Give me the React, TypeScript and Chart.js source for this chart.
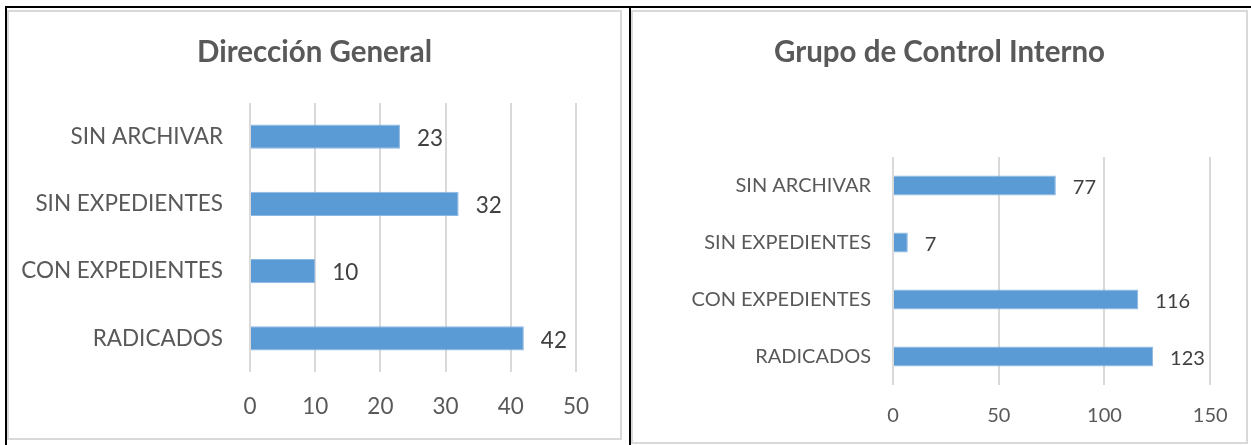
import React, { useEffect, useRef } from "react";
import { Chart, registerables } from "chart.js";

Chart.register(...registerables);

const categories = ["SIN ARCHIVAR", "SIN EXPEDIENTES", "CON EXPEDIENTES", "RADICADOS"];
const direccionValues = [23, 32, 10, 42];
const controlValues = [77, 7, 116, 123];
const direccionTitle = "Dirección General";
const controlTitle = "Grupo de Control Interno";

const FONT = "Lato, 'Open Sans', sans-serif";
const BAR = "#5B9BD5";
const GRID = "#d9d9d9";
const TEXT = "#595959";

const valueLabels = {
  id: "valueLabels",
  afterDatasetsDraw(chart: any, _args: any, opts: any) {
    const ctx = chart.ctx;
    ctx.save();
    ctx.font = `${opts.size}px ${FONT}`;
    ctx.fillStyle = "#404040";
    ctx.textAlign = "left";
    ctx.textBaseline = "middle";
    const meta = chart.getDatasetMeta(0);
    const data = chart.data.datasets[0].data;
    meta.data.forEach((bar: any, i: number) => {
      ctx.fillText(String(data[i]), bar.x + opts.offset, bar.y + 2);
    });
    ctx.restore();
  },
};

const centeredTitle = {
  id: "centeredTitle",
  afterDraw(chart: any, _args: any, opts: any) {
    const ctx = chart.ctx;
    ctx.save();
    ctx.font = `bold ${opts.size}px ${FONT}`;
    ctx.fillStyle = TEXT;
    ctx.textAlign = "center";
    ctx.textBaseline = "middle";
    ctx.fillText(opts.text, chart.width / 2, opts.y);
    ctx.restore();
  },
};

type Cfg = {
  title: string;
  values: number[];
  max: number;
  step: number;
  width: number;
  height: number;
  yWidth: number;
  xHeight: number;
  right: number;
  top: number;
  titleY: number;
  titleSize: number;
  labelSize: number;
  yPad: number;
  xPad: number;
  barPct: number;
};

function BarPanel({ cfg }: { cfg: Cfg }) {
  const ref = useRef<HTMLCanvasElement>(null);
  useEffect(() => {
    if (!ref.current) return;
    const chart = new Chart(ref.current, {
      type: "bar",
      data: {
        labels: categories,
        datasets: [
          {
            data: cfg.values,
            backgroundColor: BAR,
            borderColor: "#8db8e3",
            borderWidth: 1,
            barPercentage: cfg.barPct,
            categoryPercentage: 1,
          },
        ],
      },
      options: {
        indexAxis: "y",
        animation: false,
        responsive: false,
        maintainAspectRatio: false,
        layout: { padding: { left: 0, right: cfg.right, top: cfg.top, bottom: 0 } },
        plugins: {
          legend: { display: false },
          tooltip: { enabled: false },
          title: { display: false },
          centeredTitle: { text: cfg.title, size: cfg.titleSize, y: cfg.titleY },
          valueLabels: { size: cfg.labelSize, offset: 17 },
        } as any,
        scales: {
          x: {
            min: 0,
            max: cfg.max,
            ticks: {
              stepSize: cfg.step,
              color: TEXT,
              font: { family: FONT, size: cfg.labelSize },
              padding: cfg.xPad,
            },
            grid: { color: GRID, lineWidth: 2, drawTicks: false },
            border: { display: false },
            afterFit: (s: any) => {
              s.height = cfg.xHeight;
            },
          },
          y: {
            ticks: {
              color: TEXT,
              font: { family: FONT, size: cfg.labelSize },
              padding: cfg.yPad,
            },
            grid: { display: false, drawTicks: false },
            border: { display: false },
            afterFit: (s: any) => {
              s.width = cfg.yWidth;
            },
          },
        },
      },
      plugins: [valueLabels, centeredTitle],
    });
    return () => chart.destroy();
  }, []);
  return <canvas ref={ref} width={cfg.width} height={cfg.height} style={{ display: "block" }} />;
}

const cfg1: Cfg = {
  title: direccionTitle,
  values: direccionValues,
  max: 50,
  step: 10,
  width: 611,
  height: 426,
  yWidth: 241,
  xHeight: 66,
  right: 44,
  top: 91,
  titleY: 40,
  titleSize: 29.5,
  labelSize: 22.5,
  yPad: 27,
  xPad: 21.5,
  barPct: 0.36,
};

const cfg2: Cfg = {
  title: controlTitle,
  values: controlValues,
  max: 150,
  step: 50,
  width: 613,
  height: 430,
  yWidth: 260,
  xHeight: 57,
  right: 35,
  top: 145,
  titleY: 40,
  titleSize: 29.5,
  labelSize: 20,
  yPad: 22,
  xPad: 18.4,
  barPct: 0.35,
};

export default function App() {
  const line = (s: React.CSSProperties) => (
    <div style={{ position: "absolute", background: "#000", ...s }} />
  );
  return (
    <div style={{ position: "absolute", left: 0, top: 0, width: 1251, height: 445, background: "#fff", overflow: "hidden" }}>
      {line({ left: 5, top: 6, width: 1246, height: 2 })}
      {line({ left: 5, top: 6, width: 2, height: 439 })}
      {line({ left: 629, top: 6, width: 2, height: 439 })}
      <div style={{ position: "absolute", left: 7, top: 10, border: `2px solid ${GRID}` }}>
        <BarPanel cfg={cfg1} />
      </div>
      <div style={{ position: "absolute", left: 631, top: 10, border: `2px solid ${GRID}` }}>
        <BarPanel cfg={cfg2} />
      </div>
    </div>
  );
}
